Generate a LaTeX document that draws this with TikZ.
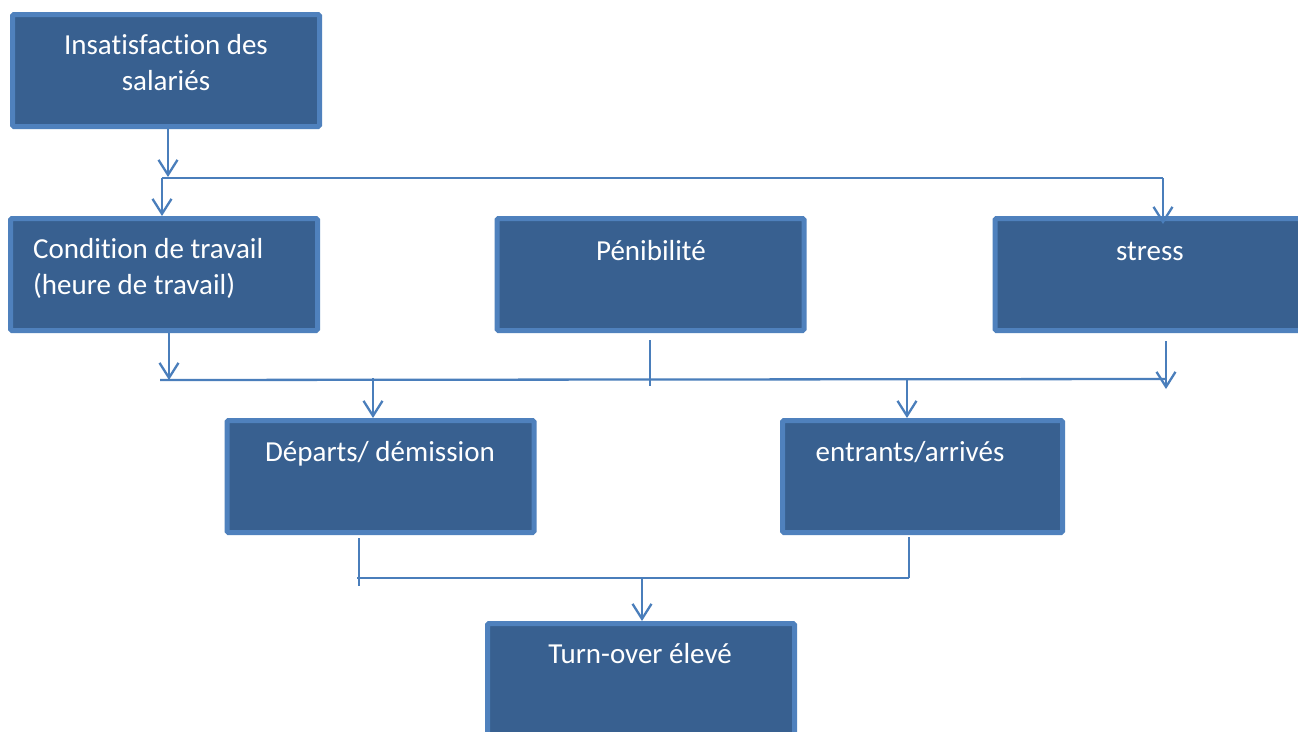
\documentclass[tikz,border=0pt]{standalone}
\usepackage{fontspec}
\setmainfont{Carlito}[Ligatures=NoCommon]
\usetikzlibrary{arrows.meta}
\definecolor{boxfill}{HTML}{386090}
\definecolor{boxedge}{HTML}{4F81BD}
\definecolor{wire}{HTML}{4A7EBB}
\begin{document}
\begin{tikzpicture}[x=1pt,y=-1pt,
  box/.style={draw=boxedge,fill=boxfill,line width=5pt,rounded corners=1.5pt,
    minimum width=307pt,minimum height=112pt,inner sep=0pt},
  label/.style={text=white,inner sep=0pt,font=\fontsize{29}{36}\selectfont},
  wireline/.style={draw=wire,line width=2.3pt},
  arr/.style={wireline,-{Straight Barb[length=15pt,width=19pt]}}]
\clip (0,0) rectangle (1298,731);
\fill[white] (0,0) rectangle (1298,731);

% boxes
\node[box] (b1) at (166,70.5) {};
\node[box] (b2) at (164,274.5) {};
\node[box] (b3) at (650.5,274.5) {};
\node[box] (b4) at (1148.5,274.5) {};
\node[box] (b5) at (380.5,476.5) {};
\node[box,minimum width=280pt] (b6) at (922.5,476.5) {};
\node[box] (b7) at (641,679.5) {};

% texts
\node[label,align=center] (t1) at (166,63) {Insatisfaction des\\salariés};
\node[label,align=left,anchor=west] (t2) at (33,268) {Condition de travail\\(heure de travail)};
\node[label,anchor=base] (t3) at (651,260) {Pénibilité};
\node[label,anchor=base] (t4) at (1150,260) {stress};
\node[label,anchor=base] (t5) at (380,461) {Départs/ démission};
\node[label,anchor=base] (t6) at (910,461) {entrants/arrivés};
\node[label,anchor=base] (t7) at (640,663) {Turn-over élevé};

% junction points
\coordinate (s1) at (162,178);
\coordinate (s2) at (1163,178);
\coordinate (m1) at (160,380);
\coordinate (m2) at (1166,379);
\coordinate (d1) at (373,378);
\coordinate (d2) at (907,378);
\coordinate (k1) at (357,578);
\coordinate (k2) at (909,578);
\coordinate (k3) at (642,578);

% first level
\draw[arr] (b1.south -| 168,0) -- (168,177);
\draw[wireline] (s1) -- (s2);
\draw[arr] (s1) -- (s1 |- b2.north);
\draw[arr] (s2) -- ([yshift=-8pt]s2 |- b4.north);

% second level
\draw[arr] (b2.south -| 169,0) -- (169,380);
\draw[wireline] (m1) -- (m2);
\draw[wireline] ([yshift=-7pt]b3.south -| 650,0) -- (650,386);
\draw[arr] ([yshift=-8pt]b4.south -| m2) -- (1166,389);
\draw[arr] (d1) -- (d1 |- b5.north);
\draw[arr] (d2) -- (d2 |- b6.north);

% third level
\draw[wireline] ([yshift=-3pt]b5.south -| 359,0) -- (359,586);
\draw[wireline] ([yshift=-2pt]b6.south -| k2) -- (k2);
\draw[wireline] (k1) -- (k2);
\draw[arr] (k3) -- (k3 |- b7.north);
\end{tikzpicture}
\end{document}
